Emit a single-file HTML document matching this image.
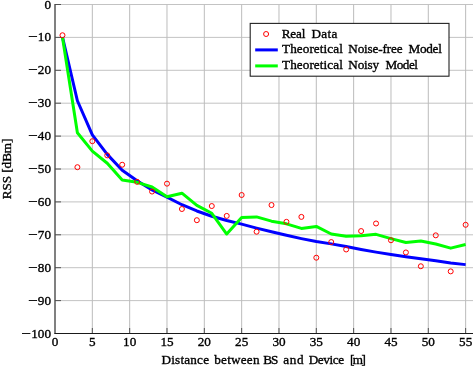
<!DOCTYPE html><html><head><meta charset="utf-8"><title>RSS plot</title><style>html,body{margin:0;padding:0;background:#fff}svg{display:block}text{font-family:"Liberation Serif", serif;font-size:13.2px;fill:#000;stroke:#000;stroke-width:0.35px}</style></head><body>
<svg width="473" height="368" viewBox="0 0 473 368">
<rect width="473" height="368" fill="#fff"/>
<line x1="92.33" y1="4.50" x2="92.33" y2="333.50" stroke="#b4b4b4" stroke-width="0.9"/>
<line x1="129.66" y1="4.50" x2="129.66" y2="333.50" stroke="#b4b4b4" stroke-width="0.9"/>
<line x1="166.99" y1="4.50" x2="166.99" y2="333.50" stroke="#b4b4b4" stroke-width="0.9"/>
<line x1="204.32" y1="4.50" x2="204.32" y2="333.50" stroke="#b4b4b4" stroke-width="0.9"/>
<line x1="241.65" y1="4.50" x2="241.65" y2="333.50" stroke="#b4b4b4" stroke-width="0.9"/>
<line x1="278.98" y1="4.50" x2="278.98" y2="333.50" stroke="#b4b4b4" stroke-width="0.9"/>
<line x1="316.31" y1="4.50" x2="316.31" y2="333.50" stroke="#b4b4b4" stroke-width="0.9"/>
<line x1="353.64" y1="4.50" x2="353.64" y2="333.50" stroke="#b4b4b4" stroke-width="0.9"/>
<line x1="390.97" y1="4.50" x2="390.97" y2="333.50" stroke="#b4b4b4" stroke-width="0.9"/>
<line x1="428.30" y1="4.50" x2="428.30" y2="333.50" stroke="#b4b4b4" stroke-width="0.9"/>
<line x1="465.63" y1="4.50" x2="465.63" y2="333.50" stroke="#b4b4b4" stroke-width="0.9"/>
<line x1="55.00" y1="4.50" x2="473" y2="4.50" stroke="#bcbcbc" stroke-width="0.9"/>
<line x1="55.00" y1="37.40" x2="473" y2="37.40" stroke="#bcbcbc" stroke-width="0.9"/>
<line x1="55.00" y1="70.30" x2="473" y2="70.30" stroke="#bcbcbc" stroke-width="0.9"/>
<line x1="55.00" y1="103.20" x2="473" y2="103.20" stroke="#bcbcbc" stroke-width="0.9"/>
<line x1="55.00" y1="136.10" x2="473" y2="136.10" stroke="#bcbcbc" stroke-width="0.9"/>
<line x1="55.00" y1="169.00" x2="473" y2="169.00" stroke="#bcbcbc" stroke-width="0.9"/>
<line x1="55.00" y1="201.90" x2="473" y2="201.90" stroke="#bcbcbc" stroke-width="0.9"/>
<line x1="55.00" y1="234.80" x2="473" y2="234.80" stroke="#bcbcbc" stroke-width="0.9"/>
<line x1="55.00" y1="267.70" x2="473" y2="267.70" stroke="#bcbcbc" stroke-width="0.9"/>
<line x1="55.00" y1="300.60" x2="473" y2="300.60" stroke="#bcbcbc" stroke-width="0.9"/>
<line x1="92.33" y1="333.50" x2="92.33" y2="328.00" stroke="#444" stroke-width="0.9"/>
<line x1="129.66" y1="333.50" x2="129.66" y2="328.00" stroke="#444" stroke-width="0.9"/>
<line x1="166.99" y1="333.50" x2="166.99" y2="328.00" stroke="#444" stroke-width="0.9"/>
<line x1="204.32" y1="333.50" x2="204.32" y2="328.00" stroke="#444" stroke-width="0.9"/>
<line x1="241.65" y1="333.50" x2="241.65" y2="328.00" stroke="#444" stroke-width="0.9"/>
<line x1="278.98" y1="333.50" x2="278.98" y2="328.00" stroke="#444" stroke-width="0.9"/>
<line x1="316.31" y1="333.50" x2="316.31" y2="328.00" stroke="#444" stroke-width="0.9"/>
<line x1="353.64" y1="333.50" x2="353.64" y2="328.00" stroke="#444" stroke-width="0.9"/>
<line x1="390.97" y1="333.50" x2="390.97" y2="328.00" stroke="#444" stroke-width="0.9"/>
<line x1="428.30" y1="333.50" x2="428.30" y2="328.00" stroke="#444" stroke-width="0.9"/>
<line x1="465.63" y1="333.50" x2="465.63" y2="328.00" stroke="#444" stroke-width="0.9"/>
<line x1="55.00" y1="4.50" x2="61.00" y2="4.50" stroke="#444" stroke-width="0.9"/>
<line x1="55.00" y1="37.40" x2="61.00" y2="37.40" stroke="#444" stroke-width="0.9"/>
<line x1="55.00" y1="70.30" x2="61.00" y2="70.30" stroke="#444" stroke-width="0.9"/>
<line x1="55.00" y1="103.20" x2="61.00" y2="103.20" stroke="#444" stroke-width="0.9"/>
<line x1="55.00" y1="136.10" x2="61.00" y2="136.10" stroke="#444" stroke-width="0.9"/>
<line x1="55.00" y1="169.00" x2="61.00" y2="169.00" stroke="#444" stroke-width="0.9"/>
<line x1="55.00" y1="201.90" x2="61.00" y2="201.90" stroke="#444" stroke-width="0.9"/>
<line x1="55.00" y1="234.80" x2="61.00" y2="234.80" stroke="#444" stroke-width="0.9"/>
<line x1="55.00" y1="267.70" x2="61.00" y2="267.70" stroke="#444" stroke-width="0.9"/>
<line x1="55.00" y1="300.60" x2="61.00" y2="300.60" stroke="#444" stroke-width="0.9"/>
<polyline points="62.47,37.21 77.40,100.73 92.33,134.95 107.26,154.37 122.19,170.17 137.13,180.70 152.06,189.91 166.99,197.15 181.92,204.72 196.85,210.97 211.79,216.24 226.72,220.52 241.65,224.14 256.58,228.09 271.51,231.71 286.45,235.33 301.38,238.62 316.31,241.58 331.24,243.88 346.17,246.52 361.11,249.48 376.04,252.11 390.97,254.42 405.90,256.72 420.83,258.69 435.77,260.67 450.70,262.97 465.63,264.62" fill="none" stroke="#0000ff" stroke-width="3.0" stroke-linejoin="round" stroke-linecap="butt"/>
<polyline points="62.47,37.21 77.40,132.81 92.33,151.08 107.26,163.26 122.19,180.04 137.13,182.34 152.06,186.95 166.99,196.82 181.92,193.20 196.85,205.38 211.79,213.28 226.72,234.01 241.65,217.56 256.58,216.90 271.51,221.18 286.45,223.81 301.38,228.42 316.31,226.44 331.24,234.01 346.17,236.32 361.11,235.66 376.04,234.34 390.97,238.62 405.90,242.57 420.83,240.92 435.77,244.05 450.70,248.16 465.63,244.54" fill="none" stroke="#00ff00" stroke-width="3.0" stroke-linejoin="round" stroke-linecap="butt"/>
<circle cx="62.47" cy="35.24" r="2.5" fill="none" stroke="#ff0000" stroke-width="1"/>
<circle cx="77.40" cy="167.20" r="2.5" fill="none" stroke="#ff0000" stroke-width="1"/>
<circle cx="92.33" cy="141.21" r="2.5" fill="none" stroke="#ff0000" stroke-width="1"/>
<circle cx="107.26" cy="155.36" r="2.5" fill="none" stroke="#ff0000" stroke-width="1"/>
<circle cx="122.19" cy="164.74" r="2.5" fill="none" stroke="#ff0000" stroke-width="1"/>
<circle cx="137.13" cy="181.85" r="2.5" fill="none" stroke="#ff0000" stroke-width="1"/>
<circle cx="152.06" cy="191.56" r="2.5" fill="none" stroke="#ff0000" stroke-width="1"/>
<circle cx="166.99" cy="183.66" r="2.5" fill="none" stroke="#ff0000" stroke-width="1"/>
<circle cx="181.92" cy="209.00" r="2.5" fill="none" stroke="#ff0000" stroke-width="1"/>
<circle cx="196.85" cy="220.19" r="2.5" fill="none" stroke="#ff0000" stroke-width="1"/>
<circle cx="211.79" cy="206.04" r="2.5" fill="none" stroke="#ff0000" stroke-width="1"/>
<circle cx="226.72" cy="215.91" r="2.5" fill="none" stroke="#ff0000" stroke-width="1"/>
<circle cx="241.65" cy="195.01" r="2.5" fill="none" stroke="#ff0000" stroke-width="1"/>
<circle cx="256.58" cy="231.71" r="2.5" fill="none" stroke="#ff0000" stroke-width="1"/>
<circle cx="271.51" cy="205.05" r="2.5" fill="none" stroke="#ff0000" stroke-width="1"/>
<circle cx="286.45" cy="221.84" r="2.5" fill="none" stroke="#ff0000" stroke-width="1"/>
<circle cx="301.38" cy="216.90" r="2.5" fill="none" stroke="#ff0000" stroke-width="1"/>
<circle cx="316.31" cy="257.71" r="2.5" fill="none" stroke="#ff0000" stroke-width="1"/>
<circle cx="331.24" cy="242.07" r="2.5" fill="none" stroke="#ff0000" stroke-width="1"/>
<circle cx="346.17" cy="249.48" r="2.5" fill="none" stroke="#ff0000" stroke-width="1"/>
<circle cx="361.11" cy="231.05" r="2.5" fill="none" stroke="#ff0000" stroke-width="1"/>
<circle cx="376.04" cy="223.48" r="2.5" fill="none" stroke="#ff0000" stroke-width="1"/>
<circle cx="390.97" cy="240.26" r="2.5" fill="none" stroke="#ff0000" stroke-width="1"/>
<circle cx="405.90" cy="252.44" r="2.5" fill="none" stroke="#ff0000" stroke-width="1"/>
<circle cx="420.83" cy="266.26" r="2.5" fill="none" stroke="#ff0000" stroke-width="1"/>
<circle cx="435.77" cy="235.33" r="2.5" fill="none" stroke="#ff0000" stroke-width="1"/>
<circle cx="450.70" cy="271.36" r="2.5" fill="none" stroke="#ff0000" stroke-width="1"/>
<circle cx="465.63" cy="224.80" r="2.5" fill="none" stroke="#ff0000" stroke-width="1"/>
<line x1="55.00" y1="4.00" x2="55.00" y2="334.00" stroke="#4a4a4a" stroke-width="1.4"/>
<line x1="54.50" y1="333.50" x2="473" y2="333.50" stroke="#1a1a1a" stroke-width="1"/>
<text x="55.00" y="346.3" text-anchor="middle">0</text>
<text x="92.33" y="346.3" text-anchor="middle">5</text>
<text x="129.66" y="346.3" text-anchor="middle">10</text>
<text x="166.99" y="346.3" text-anchor="middle">15</text>
<text x="204.32" y="346.3" text-anchor="middle">20</text>
<text x="241.65" y="346.3" text-anchor="middle">25</text>
<text x="278.98" y="346.3" text-anchor="middle">30</text>
<text x="316.31" y="346.3" text-anchor="middle">35</text>
<text x="353.64" y="346.3" text-anchor="middle">40</text>
<text x="390.97" y="346.3" text-anchor="middle">45</text>
<text x="428.30" y="346.3" text-anchor="middle">50</text>
<text x="465.63" y="346.3" text-anchor="middle">55</text>
<text x="51" y="8.50" text-anchor="end">0</text>
<text x="51" y="41.40" text-anchor="end">10</text>
<text transform="translate(27.90,41.40) scale(1.28,1)" x="0" y="0">−</text>
<text x="51" y="74.30" text-anchor="end">20</text>
<text transform="translate(27.90,74.30) scale(1.28,1)" x="0" y="0">−</text>
<text x="51" y="107.20" text-anchor="end">30</text>
<text transform="translate(27.90,107.20) scale(1.28,1)" x="0" y="0">−</text>
<text x="51" y="140.10" text-anchor="end">40</text>
<text transform="translate(27.90,140.10) scale(1.28,1)" x="0" y="0">−</text>
<text x="51" y="173.00" text-anchor="end">50</text>
<text transform="translate(27.90,173.00) scale(1.28,1)" x="0" y="0">−</text>
<text x="51" y="205.90" text-anchor="end">60</text>
<text transform="translate(27.90,205.90) scale(1.28,1)" x="0" y="0">−</text>
<text x="51" y="238.80" text-anchor="end">70</text>
<text transform="translate(27.90,238.80) scale(1.28,1)" x="0" y="0">−</text>
<text x="51" y="271.70" text-anchor="end">80</text>
<text transform="translate(27.90,271.70) scale(1.28,1)" x="0" y="0">−</text>
<text x="51" y="304.60" text-anchor="end">90</text>
<text transform="translate(27.90,304.60) scale(1.28,1)" x="0" y="0">−</text>
<text x="51" y="337.50" text-anchor="end">100</text>
<text transform="translate(21.30,337.50) scale(1.28,1)" x="0" y="0">−</text>
<text x="161.50" y="364.20" style="letter-spacing:0.195px">Distance</text>
<text x="214.30" y="364.20" style="letter-spacing:0.211px">between</text>
<text x="263.20" y="364.20" style="letter-spacing:-1.030px">BS</text>
<text x="283.30" y="364.20" style="letter-spacing:0.630px">and</text>
<text x="308.70" y="364.20" style="letter-spacing:-0.368px">Device</text>
<text x="350.00" y="364.20" style="letter-spacing:-1.520px">[m]</text>
<text transform="translate(10.9,199.3) rotate(-90)" x="0" y="0" textLength="60.8" lengthAdjust="spacing">RSS [dBm]</text>
<rect x="250.2" y="23.4" width="198.8" height="52.8" fill="#fff" stroke="#222" stroke-width="1.1"/>
<circle cx="266.1" cy="34" r="2.5" fill="none" stroke="#ff0000" stroke-width="1"/>
<line x1="255.2" y1="49.9" x2="277.8" y2="49.9" stroke="#0000ff" stroke-width="3.0"/>
<line x1="255.2" y1="65.9" x2="277.8" y2="65.9" stroke="#00ff00" stroke-width="3.0"/>
<text x="281.70" y="37.50" style="letter-spacing:-0.155px">Real</text>
<text x="311.50" y="37.50" style="letter-spacing:0.335px">Data</text>
<text x="282.00" y="53.20" style="letter-spacing:0.076px">Theoretical</text>
<text x="348.30" y="53.20" style="letter-spacing:-0.161px">Noise-free</text>
<text x="408.60" y="53.20" style="letter-spacing:-0.308px">Model</text>
<text x="282.00" y="69.00" style="letter-spacing:0.076px">Theoretical</text>
<text x="348.30" y="69.00" style="letter-spacing:-0.177px">Noisy</text>
<text x="385.40" y="69.00" style="letter-spacing:-0.458px">Model</text>
</svg></body></html>
